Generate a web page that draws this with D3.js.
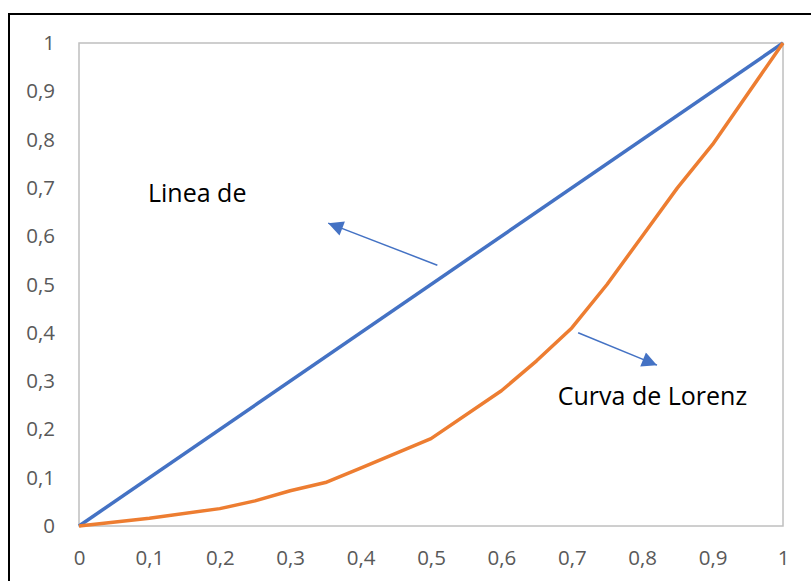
<!DOCTYPE html>
<html>
<head>
<meta charset="utf-8">
<script src="https://cdn.jsdelivr.net/npm/d3@7"></script>
<style>
  html, body { margin: 0; padding: 0; background: #fff; }
  svg { display: block; }
</style>
</head>
<body>
<script>
// ---- Data ----
const equalityX = [0, 1];
const equalityY = [0, 1];
const lorenzX = [0, 0.1, 0.2, 0.25, 0.3, 0.35, 0.4, 0.5, 0.6, 0.65, 0.7, 0.75, 0.8, 0.85, 0.9, 1];
const lorenzY = [0, 0.016, 0.036, 0.052, 0.073, 0.09, 0.12, 0.181, 0.28, 0.342, 0.41, 0.5, 0.6, 0.7, 0.79, 1];
const xTicks = [0, 0.1, 0.2, 0.3, 0.4, 0.5, 0.6, 0.7, 0.8, 0.9, 1];
const yTicks = [0, 0.1, 0.2, 0.3, 0.4, 0.5, 0.6, 0.7, 0.8, 0.9, 1];
const labels = [
  { text: "Linea de", x: 0.098, y: 0.671 },
  { text: "Curva de Lorenz", x: 0.680, y: 0.2505 }
];
const arrows = [
  { x1: 0.509, y1: 0.54, x2: 0.354, y2: 0.627 },
  { x1: 0.709, y1: 0.40, x2: 0.821, y2: 0.333 }
];

// ---- Layout ----
const W = 811, H = 581;
const plot = { left: 79, right: 783, top: 43, bottom: 526 };

const svg = d3.select("body").append("svg").attr("width", W).attr("height", H);

// outer frame
svg.append("rect").attr("x", 9).attr("y", 14).attr("width", 900).attr("height", 700)
  .attr("fill", "none").attr("stroke", "#000").attr("stroke-width", 2);

const x = d3.scaleLinear().domain([0, 1]).range([plot.left, plot.right]);
const y = d3.scaleLinear().domain([0, 1]).range([plot.bottom, plot.top]);
const fmt = d => d3.format("")(d).replace(".", ",");

// plot area border
svg.append("rect").attr("x", plot.left).attr("y", plot.top)
  .attr("width", plot.right - plot.left).attr("height", plot.bottom - plot.top)
  .attr("fill", "none").attr("stroke", "#BFBFBF").attr("stroke-width", 1.5);

// axes
const xAxis = svg.append("g").attr("transform", `translate(0,${plot.bottom})`)
  .call(d3.axisBottom(x).tickValues(xTicks).tickFormat(fmt).tickSize(0).tickPadding(24));
const yAxis = svg.append("g").attr("transform", `translate(${plot.left},0)`)
  .call(d3.axisLeft(y).tickValues(yTicks).tickFormat(fmt).tickSize(0).tickPadding(24));
[xAxis, yAxis].forEach(g => {
  g.select(".domain").remove();
  g.selectAll("text").attr("font-family", "'Open Sans', sans-serif")
    .attr("font-size", 20.5).attr("fill", "#595959");
});

// lines
const line = d3.line().x(d => x(d[0])).y(d => y(d[1]));
svg.append("path").datum(equalityX.map((v, i) => [v, equalityY[i]]))
  .attr("d", line).attr("fill", "none").attr("stroke", "#4472C4")
  .attr("stroke-width", 3.5).attr("stroke-linejoin", "round");
svg.append("path").datum(lorenzX.map((v, i) => [v, lorenzY[i]]))
  .attr("d", line).attr("fill", "none").attr("stroke", "#ED7D31")
  .attr("stroke-width", 3.5).attr("stroke-linejoin", "round");

// arrows
const defs = svg.append("defs");
defs.append("marker").attr("id", "ah").attr("viewBox", "0 0 10 10")
  .attr("refX", 10).attr("refY", 5).attr("markerWidth", 12).attr("markerHeight", 10)
  .attr("markerUnits", "strokeWidth").attr("orient", "auto")
  .append("path").attr("d", "M0,0 L10,5 L0,10 Z").attr("fill", "#4472C4");
svg.selectAll(".arrow").data(arrows).enter().append("line")
  .attr("x1", d => x(d.x1)).attr("y1", d => y(d.y1))
  .attr("x2", d => x(d.x2)).attr("y2", d => y(d.y2))
  .attr("stroke", "#4472C4").attr("stroke-width", 1.5)
  .attr("marker-end", "url(#ah)");

// labels
svg.selectAll(".lbl").data(labels).enter().append("text")
  .attr("x", d => x(d.x)).attr("y", d => y(d.y))
  .attr("font-family", "'Open Sans', sans-serif").attr("font-size", 25)
  .attr("fill", "#000").text(d => d.text);
</script>
</body>
</html>
